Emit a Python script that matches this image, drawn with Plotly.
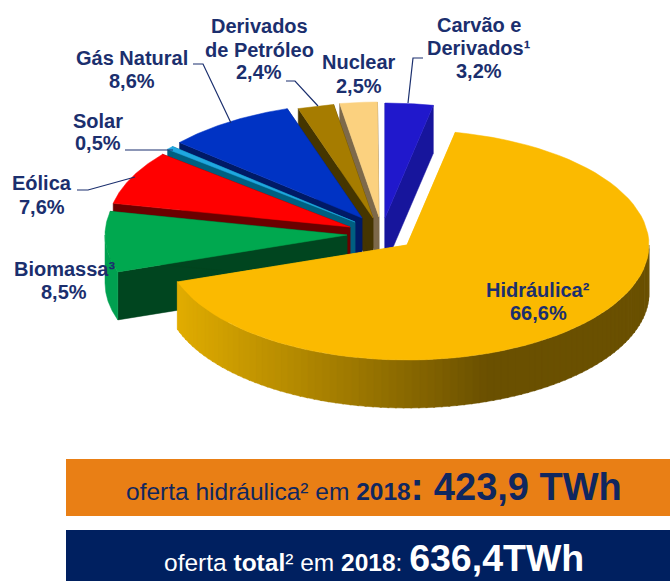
import numpy as np
import plotly.graph_objects as go

# --- data ---
sources = ["Carvão e Derivados", "Hidráulica", "Biomassa", "Eólica", "Solar", "Gás Natural", "Derivados de Petróleo", "Nuclear"]
shares = [3.2, 66.6, 8.5, 7.6, 0.5, 8.6, 2.4, 2.5]

# --- styling and pie geometry (separate from the data) ---
top_colors = ["#2018CC", "#FBBA00", "#00A84F", "#FF0000", "#1FA8E0", "#0033C4", "#A67C00", "#FBD17F"]
cut_colors = ["#17159C", "#FBBA00", "#00451F", "#6B0000", "#005F80", "#001A66", "#453500", "#7D694A"]
apex_x = [385, 407, 347, 350, 355, 362, 373, 379]
apex_y = [218, 245, 235, 227, 222, 218, 218, 217]
draw_order = [0, 7, 6, 5, 4, 3, 2, 1]
RX, RY, DEPTH = 242, 115, 48
NAVY = "#1B2F6E"

fig = go.Figure()


def poly(xs, ys, color):
    fig.add_trace(go.Scatter(x=xs, y=ys, mode="lines", fill="toself", fillcolor=color,
                             line=dict(color=color, width=0.5), hoverinfo="skip", showlegend=False))


def arc(cx, cy, a0, a1, n=80, dy=0.0):
    t = np.radians(np.linspace(a0, a1, n))
    return cx + RX * np.sin(t), cy - RY * np.cos(t) + dy


def mix(c0, c1, f):
    a = [int(c0[i:i + 2], 16) for i in (1, 3, 5)]
    b = [int(c1[i:i + 2], 16) for i in (1, 3, 5)]
    return "rgb(%d,%d,%d)" % tuple(round(a[k] + (b[k] - a[k]) * f) for k in range(3))


edges = np.concatenate([[0], np.cumsum(shares)]) * 3.6
for i in draw_order:
    a0, a1 = edges[i], edges[i + 1]
    cx, cy = apex_x[i], apex_y[i]
    for a in (a0, a1):
        ex, ey = arc(cx, cy, a, a, 1)
        poly([cx, ex[0], ex[0], cx, cx], [cy, ey[0], ey[0] + DEPTH, cy + DEPTH, cy], cut_colors[i])
    lo, hi = max(a0, 90), min(a1, 270)
    if hi > lo:
        if sources[i] == "Hidráulica":
            steps = np.linspace(lo, hi, 90)
            for s0, s1 in zip(steps[:-1], steps[1:]):
                x0, y0 = arc(cx, cy, s0, s1 + 0.4, 4)
                f = float(np.clip((x0.mean() - 178) / (487 - 178), 0, 1))
                col = mix("#E0AC00", "#6A5000", f)
                poly(np.r_[x0, x0[::-1], x0[0]], np.r_[y0, y0[::-1] + DEPTH, y0[0]], col)
        else:
            x0, y0 = arc(cx, cy, lo, hi)
            poly(np.r_[x0, x0[::-1], x0[0]], np.r_[y0, y0[::-1] + DEPTH, y0[0]], "#00A050")
    x0, y0 = arc(cx, cy, a0, a1)
    poly(np.r_[cx, x0, cx], np.r_[cy, y0, cy], top_colors[i])

# leader lines
leaders = [
    ([423, 413, 408], [58, 58, 103]),
    ([193, 203, 231], [64, 64, 123]),
    ([286, 295, 318], [81, 81, 106]),
    ([125, 173], [150, 150]),
    ([77, 88, 135], [190, 190, 177]),
]
for lx, ly in leaders:
    fig.add_trace(go.Scatter(x=lx, y=ly, mode="lines", line=dict(color=NAVY, width=1.2),
                             hoverinfo="skip", showlegend=False))

label_lines = [
    ("Carvão e", 479, 25), ("Derivados¹", 479, 48), ("3,2%", 479, 71),
    ("Hidráulica²", 538, 290), ("66,6%", 538, 313),
    ("Biomassa³", 64, 269), ("8,5%", 64, 292),
    ("Eólica", 42, 183), ("7,6%", 42, 207),
    ("Solar", 98, 121), ("0,5%", 98, 143),
    ("Gás Natural", 132, 58), ("8,6%", 132, 81),
    ("Derivados", 259, 26), ("de Petróleo", 259, 50), ("2,4%", 259, 72),
    ("Nuclear", 359, 62), ("2,5%", 359, 86),
]
annotations = [dict(x=x, y=y, xref="x", yref="y", text="<b>%s</b>" % t, showarrow=False, align="center",
                    font=dict(family="Liberation Sans", size=20, color=NAVY)) for t, x, y in label_lines]
annotations.append(dict(x=374, y=487, xref="x", yref="y", showarrow=False,
                        text='oferta hidráulica² em <b>2018</b><b style="font-size:38px">: 423,9 TWh</b>',
                        font=dict(family="Liberation Sans", size=24.5, color="#10275F")))
annotations.append(dict(x=374, y=558, xref="x", yref="y", showarrow=False,
                        text='oferta <b>total</b>² em <b>2018</b>: <b style="font-size:37.5px">636,4TWh</b>',
                        font=dict(family="Liberation Sans", size=24.5, color="#FFFFFF")))

shapes = [
    dict(type="rect", xref="x", yref="y", x0=66, x1=670, y0=459, y1=516, fillcolor="#E97F15", line_width=0, layer="below"),
    dict(type="rect", xref="x", yref="y", x0=66, x1=670, y0=530, y1=581, fillcolor="#002060", line_width=0, layer="below"),
]

fig.update_layout(
    width=670, height=581, margin=dict(l=0, r=0, t=0, b=0),
    paper_bgcolor="white", plot_bgcolor="white", showlegend=False,
    xaxis=dict(range=[0, 670], visible=False, fixedrange=True),
    yaxis=dict(range=[581, 0], visible=False, fixedrange=True),
    annotations=annotations, shapes=shapes,
)
fig.write_html("out.html", config={"displayModeBar": False},
               post_script="document.body.style.margin='0';document.body.style.overflow='hidden';")
